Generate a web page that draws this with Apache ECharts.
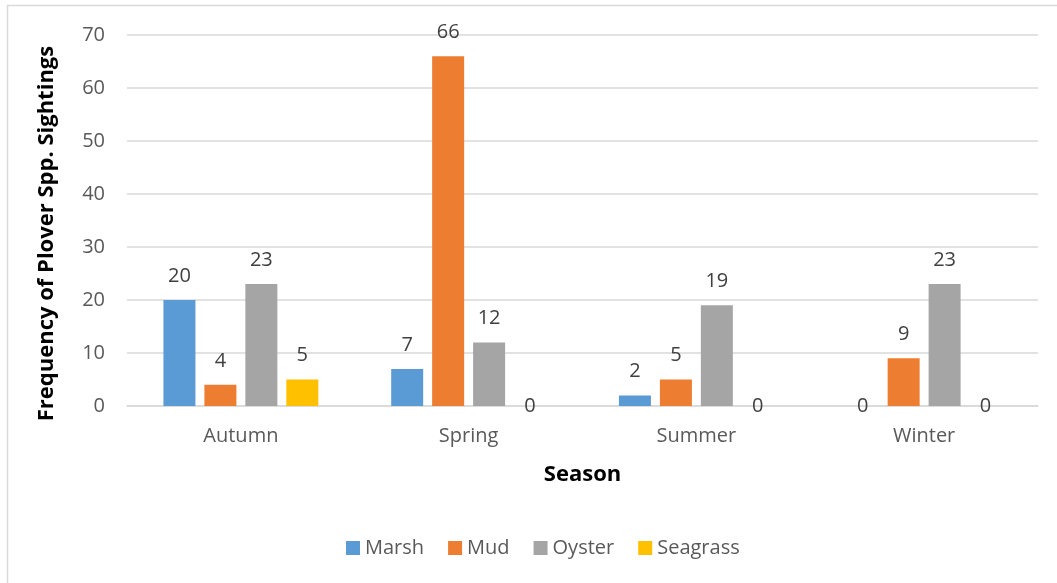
<!DOCTYPE html>
<html>
<head>
<meta charset="utf-8">
<script src="https://cdn.jsdelivr.net/npm/echarts@6/dist/echarts.min.js"></script>
<style>
  html, body { margin: 0; padding: 0; background: #fff; }
  #main { width: 1057px; height: 583px; }
</style>
</head>
<body>
<div id="main"></div>
<script>
// 数据
var seasons = ['Autumn', 'Spring', 'Summer', 'Winter'];
var marsh = [20, 7, 2, 0];
var mud = [4, 66, 5, 9];
var oyster = [23, 12, 19, 23];
var seagrass = [5, 0, 0, 0];
var yTicks = [0, 10, 20, 30, 40, 50, 60, 70];

var font = '"Open Sans", "Noto Sans", sans-serif';

// 零值的标签放在轴线附近（和原图一致）
function toData(arr) {
  return arr.map(function (v) {
    if (v === 0) {
      return {value: v, label: {offset: [0, 24]}};
    }
    return v;
  });
}

function makeSeries(name, arr, color) {
  return {
    name: name,
    type: 'bar',
    data: toData(arr),
    barWidth: 32,
    barGap: '28%',
    itemStyle: {color: color},
    label: {
      show: true,
      position: 'top',
      distance: 14,
      color: '#404040',
      fontSize: 20,
      fontFamily: font
    }
  };
}

var myChart = echarts.init(document.getElementById('main'));
myChart.setOption({
  animation: false,
  textStyle: {fontFamily: font},
  graphic: [{
    type: 'rect',
    shape: {x: 7.5, y: 5.5, width: 1100, height: 700},
    style: {fill: 'none', stroke: '#d9d9d9', lineWidth: 1.5},
    silent: true
  }],
  legend: {
    left: 341,
    top: 533,
    itemWidth: 14,
    itemHeight: 14,
    itemGap: 24,
    icon: 'rect',
    textStyle: {color: '#595959', fontSize: 20, fontFamily: font},
    data: ['Marsh', 'Mud', 'Oyster', 'Seagrass']
  },
  grid: {
    left: 127,
    right: 19,
    top: 35,
    bottom: 177
  },
  xAxis: {
    type: 'category',
    data: seasons,
    name: 'Season',
    nameLocation: 'middle',
    nameGap: 58,
    nameTextStyle: {color: '#000', fontSize: 22, fontWeight: 'bold', fontFamily: font},
    axisLine: {lineStyle: {color: '#d9d9d9', width: 1.5}},
    axisTick: {show: false},
    axisLabel: {color: '#595959', fontSize: 20, margin: 20, fontFamily: font}
  },
  yAxis: {
    type: 'value',
    min: yTicks[0],
    max: yTicks[yTicks.length - 1],
    interval: 10,
    name: 'Frequency of Plover Spp. Sightings',
    nameLocation: 'middle',
    nameGap: 69,
    nameTextStyle: {
      color: '#000', fontSize: 22, fontWeight: 'bold', fontFamily: font,
      padding: [0, 26, 0, 0]
    },
    axisLine: {show: false},
    axisTick: {show: false},
    axisLabel: {color: '#595959', fontSize: 20, margin: 22, fontFamily: font},
    splitLine: {lineStyle: {color: '#d9d9d9', width: 1.5}}
  },
  series: [
    makeSeries('Marsh', marsh, '#5B9BD5'),
    makeSeries('Mud', mud, '#ED7D31'),
    makeSeries('Oyster', oyster, '#A5A5A5'),
    makeSeries('Seagrass', seagrass, '#FFC000')
  ]
});
</script>
</body>
</html>
